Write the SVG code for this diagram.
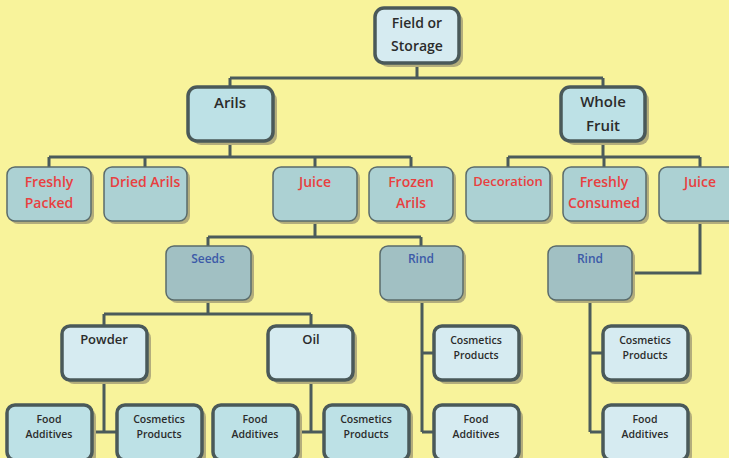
<svg xmlns="http://www.w3.org/2000/svg" width="729" height="458" viewBox="0 0 729 458">
<style>
.sh{fill:#b3ad7c}
.thick{fill:#d6ebf1;stroke:#4a5959;stroke-width:3.5}
.mid{fill:#bde1e6;stroke:#4a5959;stroke-width:3.5}
.red{fill:#acd1d3;stroke:#5a6b6b;stroke-width:1.5}
.blu{fill:#a1c0c3;stroke:#5a6b6b;stroke-width:1.5}
.leaf{fill:#bde1e6;stroke:#4a5959;stroke-width:3.5}
text{font-family:"Open Sans","DejaVu Sans",sans-serif;text-anchor:middle;font-weight:600}
.t1{font-size:14px;fill:#2b2b2b}
.t2{font-size:14px;fill:#e8403f}
.t3{font-size:12px;fill:#3c5aa8}
.t4{font-size:13px;fill:#2b2b2b}
.t5{font-size:10.5px;fill:#2b2b2b}
.c{fill:none;stroke:#4b5b5b;stroke-width:3}
</style>
<rect width="729" height="458" fill="#f8f39b"/>
<g id="connectors">
<path class="c" d="M417 63V78M230 78H603M230 78V87M603 78V87"/>
<path class="c" d="M230 142V157M49 157H411M49 157V167M145 157V167M315 157V167M411 157V167"/>
<path class="c" d="M603 142V157M508 157H700M508 157V167M604 157V167M700 157V167"/>
<path class="c" d="M315 221V237M208 237H421M208 237V246M421 237V246"/>
<path class="c" d="M700 221V273H632"/>
<path class="c" d="M208 300V314M104 314H311M104 314V326M311 314V326"/>
<path class="c" d="M104 380V432M92 432H117M311 380V432M298 432H324"/>
<path class="c" d="M422 300V432M422 353H434M422 432H434"/>
<path class="c" d="M590 300V432M590 353H603M590 432H603"/>
</g>
<g id="field">
<rect class="sh" x="379" y="12" width="84" height="55" rx="9"/>
<rect class="thick" x="375" y="8" width="84" height="55" rx="9"/>
<text class="t1" x="417" y="28">Field or</text>
<text class="t1" x="417" y="51">Storage</text>
</g>
<g id="arils">
<rect class="sh" x="192" y="91" width="85" height="54" rx="9"/>
<rect class="mid" x="188" y="87" width="85" height="54" rx="9"/>
<text class="t1" x="230" y="108" style="font-size:15px">Arils</text>
</g>
<g id="whole">
<rect class="sh" x="565" y="91" width="84" height="54" rx="9"/>
<rect class="mid" x="561" y="87" width="84" height="54" rx="9"/>
<text class="t1" x="603" y="107" style="font-size:15px">Whole</text>
<text class="t1" x="603" y="131" style="font-size:15px">Fruit</text>
</g>
<g id="freshly-packed">
<rect class="sh" x="10" y="170" width="84" height="54" rx="8"/>
<rect class="red" x="7" y="167" width="84" height="54" rx="8"/>
<text class="t2" x="49" y="187">Freshly</text>
<text class="t2" x="49" y="208">Packed</text>
</g>
<g id="dried-arils">
<rect class="sh" x="107" y="170" width="83" height="54" rx="8"/>
<rect class="red" x="104" y="167" width="83" height="54" rx="8"/>
<text class="t2" x="145" y="187">Dried Arils</text>
</g>
<g id="juice1">
<rect class="sh" x="276" y="170" width="84" height="54" rx="8"/>
<rect class="red" x="273" y="167" width="84" height="54" rx="8"/>
<text class="t2" x="315" y="187">Juice</text>
</g>
<g id="frozen">
<rect class="sh" x="372" y="170" width="84" height="54" rx="8"/>
<rect class="red" x="369" y="167" width="84" height="54" rx="8"/>
<text class="t2" x="411" y="187">Frozen</text>
<text class="t2" x="411" y="208">Arils</text>
</g>
<g id="decoration">
<rect class="sh" x="469" y="170" width="84" height="54" rx="8"/>
<rect class="red" x="466" y="167" width="84" height="54" rx="8"/>
<text class="t2" x="508" y="186" style="font-size:13px">Decoration</text>
</g>
<g id="consumed">
<rect class="sh" x="566" y="170" width="83" height="54" rx="8"/>
<rect class="red" x="563" y="167" width="83" height="54" rx="8"/>
<text class="t2" x="604" y="187">Freshly</text>
<text class="t2" x="604" y="208">Consumed</text>
</g>
<g id="juice2">
<rect class="sh" x="662" y="170" width="84" height="54" rx="8"/>
<rect class="red" x="659" y="167" width="84" height="54" rx="8"/>
<text class="t2" x="700" y="187">Juice</text>
</g>
<g id="seeds">
<rect class="sh" x="169" y="249" width="85" height="54" rx="8"/>
<rect class="blu" x="166" y="246" width="85" height="54" rx="8"/>
<text class="t3" x="208" y="263">Seeds</text>
</g>
<g id="rind1">
<rect class="sh" x="383" y="249" width="83" height="54" rx="8"/>
<rect class="blu" x="380" y="246" width="83" height="54" rx="8"/>
<text class="t3" x="421" y="263">Rind</text>
</g>
<g id="rind2">
<rect class="sh" x="551" y="249" width="84" height="54" rx="8"/>
<rect class="blu" x="548" y="246" width="84" height="54" rx="8"/>
<text class="t3" x="590" y="263">Rind</text>
</g>
<g id="powder">
<rect class="sh" x="66" y="330" width="85" height="54" rx="8"/>
<rect class="thick" x="62" y="326" width="85" height="54" rx="8"/>
<text class="t4" x="104" y="344">Powder</text>
</g>
<g id="oil">
<rect class="sh" x="272" y="330" width="85" height="54" rx="8"/>
<rect class="thick" x="268" y="326" width="85" height="54" rx="8"/>
<text class="t4" x="311" y="344">Oil</text>
</g>
<g id="food1">
<rect class="sh" x="11" y="409" width="85" height="55" rx="8"/>
<rect class="leaf" x="7" y="405" width="85" height="55" rx="8"/>
<text class="t5" x="49" y="423">Food</text>
<text class="t5" x="49" y="438">Additives</text>
</g>
<g id="cosm1">
<rect class="sh" x="121" y="409" width="85" height="55" rx="8"/>
<rect class="leaf" x="117" y="405" width="85" height="55" rx="8"/>
<text class="t5" x="159" y="423">Cosmetics</text>
<text class="t5" x="159" y="438">Products</text>
</g>
<g id="food2">
<rect class="sh" x="217" y="409" width="85" height="55" rx="8"/>
<rect class="leaf" x="213" y="405" width="85" height="55" rx="8"/>
<text class="t5" x="255" y="423">Food</text>
<text class="t5" x="255" y="438">Additives</text>
</g>
<g id="cosm2">
<rect class="sh" x="328" y="409" width="85" height="55" rx="8"/>
<rect class="leaf" x="324" y="405" width="85" height="55" rx="8"/>
<text class="t5" x="366" y="423">Cosmetics</text>
<text class="t5" x="366" y="438">Products</text>
</g>
<g id="cosm3">
<rect class="sh" x="438" y="330" width="85" height="54" rx="8"/>
<rect class="thick" x="434" y="326" width="85" height="54" rx="8"/>
<text class="t5" x="476" y="344">Cosmetics</text>
<text class="t5" x="476" y="359">Products</text>
</g>
<g id="food3">
<rect class="sh" x="438" y="409" width="85" height="55" rx="8"/>
<rect class="thick" x="434" y="405" width="85" height="55" rx="8"/>
<text class="t5" x="476" y="423">Food</text>
<text class="t5" x="476" y="438">Additives</text>
</g>
<g id="cosm4">
<rect class="sh" x="607" y="330" width="85" height="54" rx="8"/>
<rect class="thick" x="603" y="326" width="85" height="54" rx="8"/>
<text class="t5" x="645" y="344">Cosmetics</text>
<text class="t5" x="645" y="359">Products</text>
</g>
<g id="food4">
<rect class="sh" x="607" y="409" width="85" height="55" rx="8"/>
<rect class="thick" x="603" y="405" width="85" height="55" rx="8"/>
<text class="t5" x="645" y="423">Food</text>
<text class="t5" x="645" y="438">Additives</text>
</g>
</svg>
